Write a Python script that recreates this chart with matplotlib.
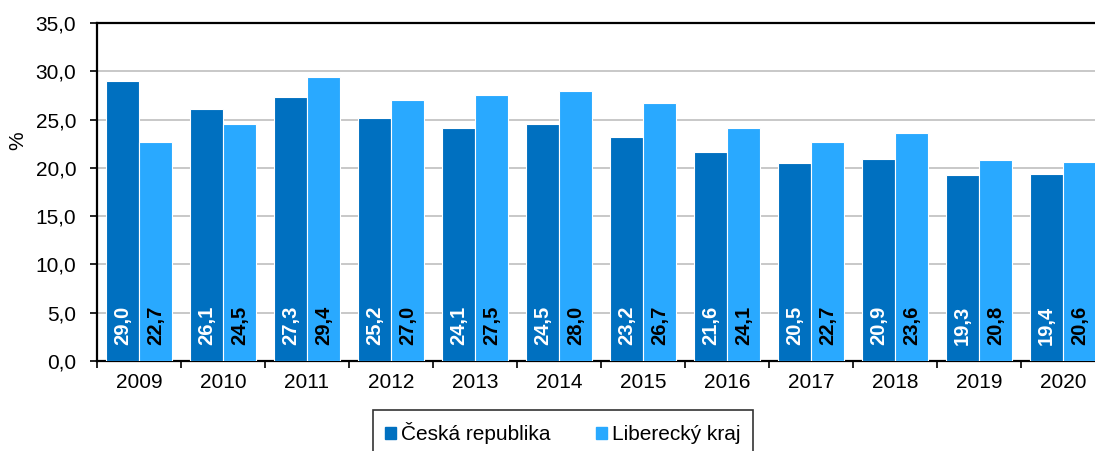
import matplotlib
matplotlib.use("Agg")
import matplotlib.pyplot as plt
import numpy as np
from matplotlib.patches import Patch

years = ["2009", "2010", "2011", "2012", "2013", "2014", "2015", "2016", "2017", "2018", "2019", "2020"]
cr = [29.0, 26.1, 27.3, 25.2, 24.1, 24.5, 23.2, 21.6, 20.5, 20.9, 19.3, 19.4]
lk = [22.7, 24.5, 29.4, 27.0, 27.5, 28.0, 26.7, 24.1, 22.7, 23.6, 20.8, 20.6]
series_names = ["Česká republika", "Liberecký kraj"]

plt.rcParams['font.family'] = ['Liberation Sans', 'DejaVu Sans']
c_dark = "#0070C0"
c_light = "#29A9FF"

fig = plt.figure(figsize=(10.95, 4.51), dpi=100)
ax = fig.add_axes([97/1095, 1-361/451, 1008/1095, 338/451])

x = np.arange(len(years))
w = 0.395
ax.bar(x - w/2, cr, w, color=c_dark, edgecolor="white", linewidth=0.8, zorder=3)
ax.bar(x + w/2, lk, w, color=c_light, edgecolor="white", linewidth=0.8, zorder=3)

def fmt(v):
    return f"{v:.1f}".replace(".", ",")

for xi, v in zip(x, cr):
    ax.annotate(fmt(v), (xi - w/2, 0), xytext=(0, 11.5), textcoords="offset points",
                rotation=90, ha="center", va="bottom", color="white",
                fontsize=14.5, fontweight="bold", zorder=4)
for xi, v in zip(x, lk):
    ax.annotate(fmt(v), (xi + w/2, 0), xytext=(0, 11.5), textcoords="offset points",
                rotation=90, ha="center", va="bottom", color="black",
                fontsize=14.5, fontweight="bold", zorder=4)

ax.set_xlim(-0.5, len(years) - 0.5)
ax.set_ylim(0, 35)
yt = np.arange(0, 35.1, 5)
ax.set_yticks(yt)
ax.set_yticklabels([fmt(v) for v in yt], fontsize=15)
ax.yaxis.grid(True, color="#BFBFBF", linewidth=1.2, zorder=0)
ax.set_axisbelow(True)

ax.set_xticks(np.arange(-0.5, len(years), 1.0))
ax.set_xticklabels([])
ax.set_xticks(x, minor=True)
ax.set_xticklabels(years, minor=True, fontsize=15)
ax.tick_params(axis="x", which="minor", length=0, pad=9)
ax.tick_params(axis="x", which="major", length=5, width=1.2, direction="out")
ax.tick_params(axis="y", length=5, width=1.2, direction="out", pad=10)

for s in ["left", "bottom", "top"]:
    ax.spines[s].set_linewidth(1.6)
    ax.spines[s].set_color("black")
ax.spines["right"].set_visible(False)

ax.set_ylabel("%", fontsize=15)
ax.yaxis.set_label_coords(-70/1008, (361-141)/338)

handles = [Patch(color=c_dark), Patch(color=c_light)]
leg = fig.legend(handles, series_names, loc="upper center",
                 bbox_to_anchor=(563/1095, 1 - 410/451), ncol=2, fontsize=15,
                 frameon=True, fancybox=False, edgecolor="black",
                 handlelength=0.5, handleheight=0.5, handletextpad=0.25,
                 columnspacing=2.2, borderpad=0.6, borderaxespad=0)
leg.get_frame().set_linewidth(1.2)

fig.savefig("out.png", dpi=100)
